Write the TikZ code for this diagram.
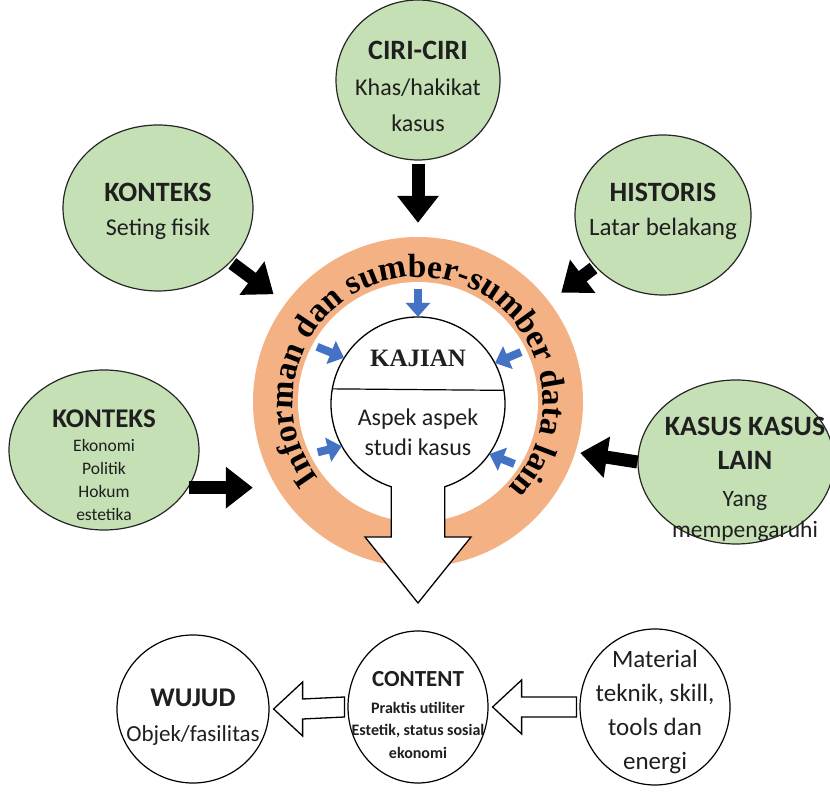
\documentclass[tikz,border=0pt]{standalone}
\usepackage{fontspec}
\setmainfont{Carlito}
\newfontfamily\tnr{Liberation Serif}
\usetikzlibrary{shapes.geometric,arrows.meta,decorations.text,calc}
\definecolor{grn}{HTML}{C5E0B4}
\definecolor{org}{HTML}{F4B183}
\definecolor{bluc}{HTML}{4472C4}
\definecolor{txt}{HTML}{1F1F1F}
\begin{document}
\begin{tikzpicture}[x=1pt,y=1pt,
  gcirc/.style={ellipse, draw=black!85, line width=1.2pt, fill=grn, inner sep=0pt},
  wcirc/.style={ellipse, draw=black, line width=1.2pt, fill=white, inner sep=0pt},
  ctext/.style={align=center, text=txt, inner sep=0pt},
  blk/.style={line width=13pt, -{Triangle[length=27pt,width=40pt]}},
  bluarr/.style={bluc, line width=8pt, -{Triangle[length=14pt,width=24pt]}},
  hollow/.style={draw=black, line width=1.3pt, fill=white, line join=miter}]
\useasboundingbox (0,0) rectangle (830,793);
% ring
\node[circle, fill=org, minimum size=330pt, inner sep=0pt] (ring) at (418,391) {};
\node[circle, fill=white, minimum size=240pt, inner sep=0pt] (ringin) at (418,391) {};
\path[decorate, decoration={text along path, text align=center,
  text={|\tnr\bfseries\fontsize{33.5}{33.5}\selectfont|Informan dan sumber-sumber data lain}}]
  (418,391) ++(216:125) arc[start angle=216, end angle=-42, radius=125];
% kajian
\node[circle, minimum size=174pt, inner sep=0pt] (kajian) at (418,389) {};
\draw[line width=1.3pt, fill=white, line join=miter]
  ($(kajian.center)+(-72.1:87)$) arc[start angle=-72.1, end angle=252.1, radius=87]
  -- (391.3,256) -- (365,256) -- (418,190) -- (471,256) -- (444.7,256) -- cycle;
\draw[line width=1.2pt] (kajian.170.7) -- (kajian.9.3);
\node[font=\tnr\bfseries\fontsize{25}{25}\selectfont, text=txt] (kajt) at (418,435) {KAJIAN};
\node[ctext, font=\fontsize{24}{30}\selectfont] (kajs) at (418,361) {Aspek aspek\\studi kasus};
% blue arrows
\draw[bluarr] ($(kajian.north)+(0,28)$) -- (kajian.north);
\draw[bluarr] ($(kajian.148)+(-27,11)$) -- (kajian.148);
\draw[bluarr] ($(kajian.28)+(26,11)$) -- (kajian.28);
\draw[bluarr] ($(kajian.209)+(-24,-6)$) -- (kajian.209);
\draw[bluarr] ($(kajian.-35)+(25,-10)$) -- (kajian.-35);
% green circles
\node[gcirc, minimum width=164pt, minimum height=160pt] (ciri) at (418,713) {};
\node[ctext, font=\fontsize{24}{36}\selectfont] (ciri-t) at (418,707)
  {\fontsize{28}{36}\selectfont\bfseries CIRI-CIRI\\Khas/hakikat\\kasus};
\node[gcirc, minimum width=190pt, minimum height=166pt] (k1) at (158,585) {};
\node[ctext, font=\fontsize{24}{34}\selectfont] (k1-t) at (158,582)
  {\fontsize{28}{34}\selectfont\bfseries KONTEKS\\Seting fisik};
\node[gcirc, minimum width=176pt, minimum height=160pt] (hist) at (663,578) {};
\node[ctext, font=\fontsize{25}{34}\selectfont] (hist-t) at (663,582)
  {\fontsize{28}{34}\selectfont\bfseries HISTORIS\\Latar belakang};
\node[gcirc, minimum width=190pt, minimum height=160pt] (k2) at (104,343) {};
\node[ctext, font=\fontsize{17.5}{23}\selectfont] (k2-t) at (104,328)
  {\fontsize{27}{30}\selectfont\bfseries KONTEKS\\[1pt]Ekonomi\\Politik\\Hokum\\estetika};
\node[gcirc, minimum width=196pt, minimum height=164pt] (kasus) at (736,331) {};
\node[ctext, font=\fontsize{23.5}{34}\selectfont] (kasus-t) at (745,314)
  {\fontsize{28}{34}\selectfont\bfseries KASUS KASUS\\\fontsize{28}{34}\selectfont\bfseries LAIN\\[3pt]Yang\\[-3pt]mempengaruhi};
% black arrows
\draw[blk, shorten <=3pt, shorten >=14pt] (ciri) -- (ring);
\draw[blk, shorten <=2pt, shorten >=15pt] (k1) -- (ring);
\draw[blk, shorten <=2pt, shorten >=15pt] (hist) -- (ring);
\draw[blk] (k2.-24) -- (k2.-24 -| ring.west);
\draw[blk] (kasus.west) -- ($(ring.east)+(-3,-51)$);
% bottom row
\node[wcirc, minimum width=152pt, minimum height=148pt] (wujud) at (193,84) {};
\node[ctext, font=\fontsize{23}{35}\selectfont] (wujud-t) at (193,76)
  {\fontsize{27}{35}\selectfont\bfseries WUJUD\\Objek/fasilitas};
\node[wcirc, minimum width=140pt, minimum height=152pt] (content) at (418,86) {};
\node[ctext, font=\fontsize{16}{22.5}\selectfont\bfseries] (content-t) at (418,78)
  {\fontsize{23}{26}\selectfont\bfseries CONTENT\\[4pt]Praktis utiliter\\Estetik, status sosial\\ekonomi};
\node[wcirc, minimum width=150pt, minimum height=156pt] (material) at (655,86) {};
\node[ctext, font=\fontsize{25}{34}\selectfont] (material-t) at (655,81)
  {Material\\teknik, skill,\\tools dan\\energi};
% hollow arrows
\draw[hollow] ($(content.west)+(-3,10)$) -- ($(wujud.east)+(33,10)$) -- ($(wujud.east)+(33,27)$)
  -- ($(wujud.east)+(4,0)$) -- ($(wujud.east)+(33,-27)$) -- ($(wujud.east)+(33,-10)$)
  -- ($(content.west)+(-3,-10)$) -- cycle;
\draw[hollow] ($(material.west)+(-3,10)$) -- ($(content.east)+(33,10)$) -- ($(content.east)+(33,27)$)
  -- ($(content.east)+(4,0)$) -- ($(content.east)+(33,-27)$) -- ($(content.east)+(33,-10)$)
  -- ($(material.west)+(-3,-10)$) -- cycle;
\end{tikzpicture}
\end{document}
